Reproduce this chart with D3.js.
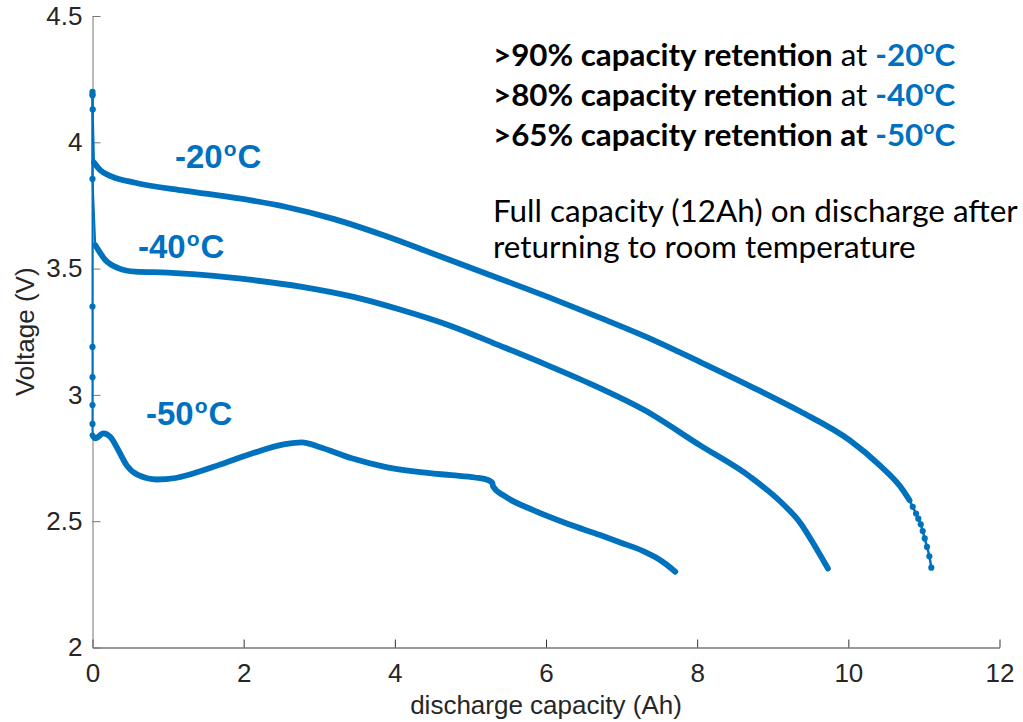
<!DOCTYPE html>
<html><head><meta charset="utf-8">
<script src="https://cdn.jsdelivr.net/npm/d3@7"></script>
<style>body{margin:0;background:#fff}</style>
</head><body><svg id="c" width="1023" height="722"></svg>
<script>
// ---- data ----
const xTicks = [0, 2, 4, 6, 8, 10, 12];
const yTicks = [2, 2.5, 3, 3.5, 4, 4.5];
const yTickLabels = ["2", "2.5", "3", "3.5", "4", "4.5"];

// rest-voltage drop at start (capacity ~0)
const rest20 = [[0, 4.20], [0.003, 4.13]];
const rest40 = [[0, 4.185], [0, 3.855]];
const rest50 = [[0, 4.19], [0, 3.35], [0, 3.19], [0, 3.07], [0, 2.96], [0, 2.885]];

// main discharge curves [capacity Ah, voltage V]
const curve20 = [[0.02,3.92],[0.1,3.89],[0.25,3.865],[0.565,3.84],[1.23,3.808],[1.89,3.78],[2.55,3.745],[3.21,3.695],[3.87,3.63],[4.5,3.56],[5.39,3.46],[6.05,3.385],[6.72,3.305],[7.4,3.22],[8.04,3.13],[8.70,3.035],[9.36,2.935],[10.02,2.82],[10.42,2.72],[10.68,2.64],[10.81,2.583]];
const tail20 = [[10.852,2.557],[10.896,2.530],[10.926,2.510],[10.958,2.488],[10.984,2.461],[11.011,2.432],[11.041,2.398],[11.072,2.361],[11.098,2.316]];

const curve40 = [[0.036,3.593],[0.17,3.534],[0.34,3.502],[0.565,3.488],[1.0,3.484],[1.45,3.475],[2.11,3.455],[2.77,3.428],[3.44,3.389],[4.10,3.335],[4.75,3.272],[5.39,3.195],[6.0,3.12],[6.58,3.045],[7.3,2.94],[8.04,2.80],[8.70,2.676],[9.1,2.578],[9.36,2.495],[9.58,2.39],[9.73,2.313]];

const curve50 = [[0.0,2.84],[0.036,2.828],[0.146,2.848],[0.234,2.834],[0.344,2.78],[0.455,2.72],[0.6,2.683],[0.85,2.665],[1.1,2.671],[1.3,2.686],[1.667,2.722],[2.108,2.768],[2.549,2.805],[2.77,2.812],[2.99,2.795],[3.43,2.749],[3.87,2.715],[4.31,2.695],[4.75,2.682],[5.06,2.673],[5.24,2.662],[5.29,2.652],[5.30,2.637],[5.46,2.598],[5.83,2.544],[6.275,2.491],[6.716,2.445],[7.0,2.414],[7.30,2.38],[7.45,2.357],[7.60,2.327],[7.71,2.30]];

const curveLabels = ["-20", "-40", "-50"];
const xLabel = "discharge capacity (Ah)";
const yLabel = "Voltage (V)";

// ---- drawing ----
const blue = "#0072BD", textBlue = "#0070C0";
const svg = d3.select("#c");
const x = d3.scaleLinear().domain([0, 12]).range([92.5, 999.5]);
const y = d3.scaleLinear().domain([2, 4.5]).range([647.5, 16]);
const tickFont = "'Liberation Sans', Arial, Helvetica, sans-serif";

const gx = svg.append("g").attr("transform", `translate(0,${y(2)})`)
  .call(d3.axisBottom(x).tickValues(xTicks).tickSize(-8).tickSizeOuter(0).tickPadding(16));
gx.select(".domain").attr("stroke", "#333");
gx.selectAll(".tick line").attr("stroke", "#333");
gx.selectAll(".tick text").attr("font-size", 26).attr("font-family", tickFont).attr("fill", "#262626");

const gy = svg.append("g").attr("transform", `translate(${x(0)},0)`)
  .call(d3.axisLeft(y).tickValues(yTicks).tickFormat((d, i) => yTickLabels[i]).tickSize(-8).tickSizeOuter(0).tickPadding(10));
gy.select(".domain").attr("stroke", "#777");
gy.selectAll(".tick line").attr("stroke", "#777");
gy.selectAll(".tick text").attr("font-size", 26).attr("font-family", tickFont).attr("fill", "#262626");

svg.append("text").attr("x", (x(0) + x(12)) / 2).attr("y", 714).attr("text-anchor", "middle")
  .attr("font-family", tickFont).attr("font-size", 26).attr("fill", "#262626").text(xLabel);
svg.append("text").attr("transform", `translate(34,${(y(2) + y(4.5)) / 2}) rotate(-90)`).attr("text-anchor", "middle")
  .attr("font-family", tickFont).attr("font-size", 26).attr("fill", "#262626").text(yLabel);

const smooth = d3.line().x(d => x(d[0])).y(d => y(d[1])).curve(d3.curveMonotoneX);
const straight = d3.line().x(d => x(d[0])).y(d => y(d[1]));
const plot = svg.append("g");

function drawSeries(rest, curve, tail) {
  plot.append("path").attr("d", straight(rest.concat([curve[0]]))).attr("fill", "none")
    .attr("stroke", blue).attr("stroke-width", 2);
  plot.append("path").attr("d", smooth(curve)).attr("fill", "none")
    .attr("stroke", blue).attr("stroke-width", 5.8).attr("stroke-linecap", "round").attr("stroke-linejoin", "round");
  if (tail.length) {
    plot.append("path").attr("d", smooth([curve[curve.length - 1]].concat(tail))).attr("fill", "none")
      .attr("stroke", blue).attr("stroke-width", 2.5);
  }
  plot.selectAll(null).data(rest.concat(tail)).enter().append("circle")
    .attr("cx", d => x(d[0])).attr("cy", d => y(d[1])).attr("r", 3.1).attr("fill", blue);
}
drawSeries(rest20, curve20, tail20);
drawSeries(rest40, curve40, []);
drawSeries(rest50, curve50, []);

// curve labels
const labelFont = "'Liberation Sans', Arial, Helvetica, sans-serif";
const labelPos = [[175, 168], [138, 258], [146, 425]];
curveLabels.forEach((t, i) => {
  const tx = svg.append("text").attr("x", labelPos[i][0]).attr("y", labelPos[i][1])
    .attr("font-family", labelFont).attr("font-weight", "bold").attr("font-size", 33).attr("fill", textBlue);
  tx.append("tspan").text(t);
  tx.append("tspan").attr("dy", -12.5).attr("font-size", 21).attr("dx", 1).text("o");
  tx.append("tspan").attr("dy", 12.5).attr("dx", 1).text("C");
});

// annotations
const annFont = "Lato, 'Open Sans', sans-serif";
const ann = svg.append("g").attr("font-family", annFont).attr("fill", "#000");
const bold = [
  [">90% capacity retention", " at ", "-20"],
  [">80% capacity retention", " at ", "-40"],
  [">65% capacity retention at", " ", "-50"]
];
const boldY = [66, 106, 146];
const bLines = bold.map((parts, i) => {
  const t = ann.append("text").attr("x", 493).attr("y", boldY[i]).attr("font-size", 26);
  t.append("tspan").attr("font-weight", "bold").text(parts[0]);
  t.append("tspan").attr("font-weight", i === 2 ? "bold" : "normal").text(parts[1]);
  t.append("tspan").attr("font-weight", "bold").attr("fill", textBlue).text(parts[2]);
  t.append("tspan").attr("class", "sup").attr("font-weight", "bold").attr("fill", textBlue).attr("dy", -10).text("o");
  t.append("tspan").attr("class", "after").attr("font-weight", "bold").attr("fill", textBlue).attr("dy", 10).text("C");
  return t;
});
const plain = ["Full capacity (12Ah) on discharge after", "returning to room temperature"];
const plainY = [222, 258];
const pLines = plain.map((s, i) => ann.append("text").attr("x", 493).attr("y", plainY[i]).attr("font-size", 26).text(s));

// fit font size to widths measured in the picture
const wP = pLines[0].node().getComputedTextLength();
const fsP = 26 * 525 / wP;
pLines.forEach(t => t.attr("font-size", fsP));
const wB = bLines[0].node().getComputedTextLength();
const fsB = 26 * 469 / wB;
bLines.forEach(t => {
  t.attr("font-size", fsB);
  t.select(".sup").attr("font-size", fsB * 0.62).attr("dy", -fsB * 0.38);
  t.select(".after").attr("dy", fsB * 0.38);
});
</script></body></html>
